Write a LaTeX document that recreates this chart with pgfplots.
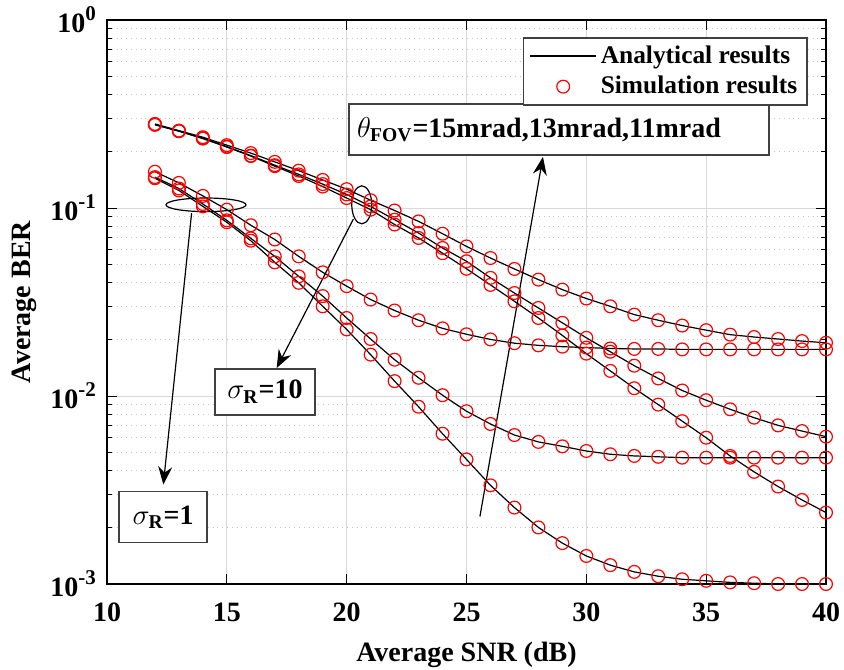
\documentclass[border=0pt]{standalone}
\usepackage{amsmath}
\usepackage{fontspec}
\setmainfont{Liberation Serif}
\usepackage{pgfplots}
\pgfplotsset{compat=1.18}
\usepackage{pgfplotstable}
\usetikzlibrary{arrows.meta}

\definecolor{boxgray}{HTML}{404040}
\newcommand{\pw}[1]{10\raisebox{0.42em}{\fontsize{10.5}{11}\selectfont #1}}

\pgfplotsset{
  anaLine/.style={black, line width=0.6pt, no marks},
  simMark/.style={only marks, mark=o, mark size=3.2pt, mark options={red, line width=0.6pt}},
  lineLegend/.style={legend image code/.code={\draw[##1] (0pt,0pt) -- (33pt,0pt);}},
  markLegend/.style={legend image code/.code={\draw[##1] plot coordinates {(16.5pt,0pt)};}},
}

% columns: sigma_R=10 (A,C,F), sigma_R=1 (B,D,E)
\pgfplotstableread{
x   A       C       F       B       D       E
12  0.280   0.278   0.277   0.156   0.146   0.144
13  0.258   0.257   0.256   0.136   0.127   0.124
14  0.238   0.235   0.234   0.116   0.105   0.102
15  0.216   0.212   0.211   0.098   0.086   0.084
16  0.196   0.190   0.189   0.081   0.069   0.067
17  0.176   0.169   0.167   0.068   0.0553  0.0514
18  0.158   0.151   0.148   0.0553  0.0433  0.0400
19  0.141   0.134   0.130   0.0455  0.0340  0.0300
20  0.126   0.118   0.113   0.0384  0.0260  0.0226
21  0.110   0.102   0.098   0.0326  0.0201  0.0166
22  0.097   0.0867  0.0817  0.0285  0.0156  0.0120
23  0.0849  0.0736  0.0693  0.0253  0.0125  0.00877
24  0.0730  0.0613  0.0575  0.0229  0.0101  0.0063
25  0.0625  0.0521  0.0475  0.0213  0.0083  0.0046
26  0.0542  0.0425  0.0390  0.0200  0.0071  0.00335
27  0.0474  0.0353  0.0319  0.0191  0.0062  0.00255
28  0.0416  0.0294  0.0260  0.0186  0.0057  0.0020
29  0.0368  0.0245  0.0210  0.0183  0.0054  0.00165
30  0.0330  0.0204  0.0168  0.0181  0.0051  0.00141
31  0.0300  0.0172  0.0136  0.0179  0.0049  0.00126
32  0.0271  0.0145  0.0110  0.0178  0.0048  0.00116
33  0.0253  0.0124  0.0090  0.0178  0.00475 0.00110
34  0.0237  0.0107  0.00735 0.0177  0.0047  0.00106
35  0.0224  0.0095  0.0060  0.0177  0.0047  0.00104
36  0.0212  0.0085  0.0048  0.0177  0.0047  0.00102
37  0.0206  0.00767 0.00395 0.0177  0.0047  0.00101
38  0.0201  0.00698 0.0033  0.0177  0.0047  0.00100
39  0.0196  0.00651 0.0028  0.0177  0.0047  0.00100
40  0.0192  0.00608 0.0024  0.0177  0.0047  0.00100
}\ber

\begin{document}
\begin{tikzpicture}[font=\fontsize{14}{16}\selectfont\bfseries]
\begin{axis}[
  scale only axis, width=359.5pt, height=282pt,
  ymode=log, xmin=10, xmax=40, ymin=1e-3, ymax=1,
  xtick={10,15,...,40}, ytick={1e-3,1e-2,1e-1,1},
  yticklabels={\pw{-3},\pw{-2},\pw{-1},\pw{0}},
  /pgf/number format/assume math mode=true,
  tick align=inside, major tick length=5pt, minor tick length=2.5pt,
  tick style={black, line width=0.5pt},
  axis line style={black, line width=0.6pt},
  grid=both,
  major grid style={gray!30, solid, line width=0.4pt},
  minor grid style={gray!45, dotted, line width=0.5pt},
  minor x tick num=0,
  every tick label/.append style={font=\fontsize{14}{16}\selectfont\bfseries},
  xticklabel style={yshift=-6pt},
  yticklabel style={xshift=-2pt},
  xlabel={Average SNR (dB)}, ylabel={Average BER},
  xlabel style={yshift=-3pt}, ylabel style={yshift=0pt},
  legend style={at={(0.975,0.97)}, anchor=north east, draw=boxgray,
    line width=0.8pt, fill=white, cells={anchor=west},
    font=\fontsize{12.7}{15}\selectfont\bfseries,
    row sep=1pt, inner xsep=3pt, inner ysep=2pt},
]
\addplot[anaLine, lineLegend] table[x=x, y=A] {\ber};
\addlegendentry{Analytical results}
\addplot[anaLine, forget plot] table[x=x, y=C] {\ber};
\addplot[anaLine, forget plot] table[x=x, y=F] {\ber};
\addplot[anaLine, forget plot] table[x=x, y=B] {\ber};
\addplot[anaLine, forget plot] table[x=x, y=D] {\ber};
\addplot[anaLine, forget plot] table[x=x, y=E] {\ber};

\addplot[simMark, markLegend] table[x=x, y=A] {\ber};
\addlegendentry{Simulation results}
\addplot[simMark, forget plot] table[x=x, y=C] {\ber};
\addplot[simMark, forget plot] table[x=x, y=F] {\ber};
\addplot[simMark, forget plot] table[x=x, y=B] {\ber};
\addplot[simMark, forget plot] table[x=x, y=D] {\ber};
\addplot[simMark, forget plot] table[x=x, y=E] {\ber};

% annotations
\draw[black, line width=0.6pt] (axis cs:20.63,0.104) ellipse [x radius=5pt, y radius=9.5pt];
\draw[black, line width=0.6pt] (axis cs:14.13,0.104) ellipse [x radius=20pt, y radius=3.4pt];
\draw[black, line width=0.6pt, -{Stealth[length=9pt, width=7pt, inset=3pt]}]
  (axis cs:20.28,0.0873) -- (axis cs:17.08,0.01409);
\draw[black, line width=0.6pt, -{Stealth[length=9pt, width=7pt, inset=3pt]}]
  (axis cs:13.53,0.0939) -- (axis cs:12.35,0.00338);
\draw[black, line width=0.6pt, -{Stealth[length=9pt, width=7pt, inset=3pt]}]
  (axis cs:25.56,0.002286) -- (axis cs:28.19,0.187);
\node[draw=boxgray, line width=0.9pt, fill=white, minimum width=210pt, minimum height=25.5pt,
  inner sep=2pt, text width=202pt, align=left]
  at (axis cs:28.86,0.262) {$\theta_{\text{\bfseries FOV}}$=15mrad,13mrad,11mrad};
\node[draw=boxgray, line width=0.9pt, fill=white, minimum width=50pt, minimum height=23pt, inner sep=2pt]
  at (axis cs:16.59,0.01055) {$\sigma_{\text{\bfseries R}}$=10};
\node[draw=boxgray, line width=0.9pt, fill=white, minimum width=44pt, minimum height=25.5pt, inner sep=2pt]
  at (axis cs:12.34,0.002274) {$\sigma_{\text{\bfseries R}}$=1};
\end{axis}
\pgfresetboundingbox
\path (current axis.south west) ++(-53.5pt,-42.5pt) coordinate (bbl);
\path (current axis.north east) ++(9pt,10pt) coordinate (btr);
\useasboundingbox (bbl) rectangle (btr);
\end{tikzpicture}
\end{document}
